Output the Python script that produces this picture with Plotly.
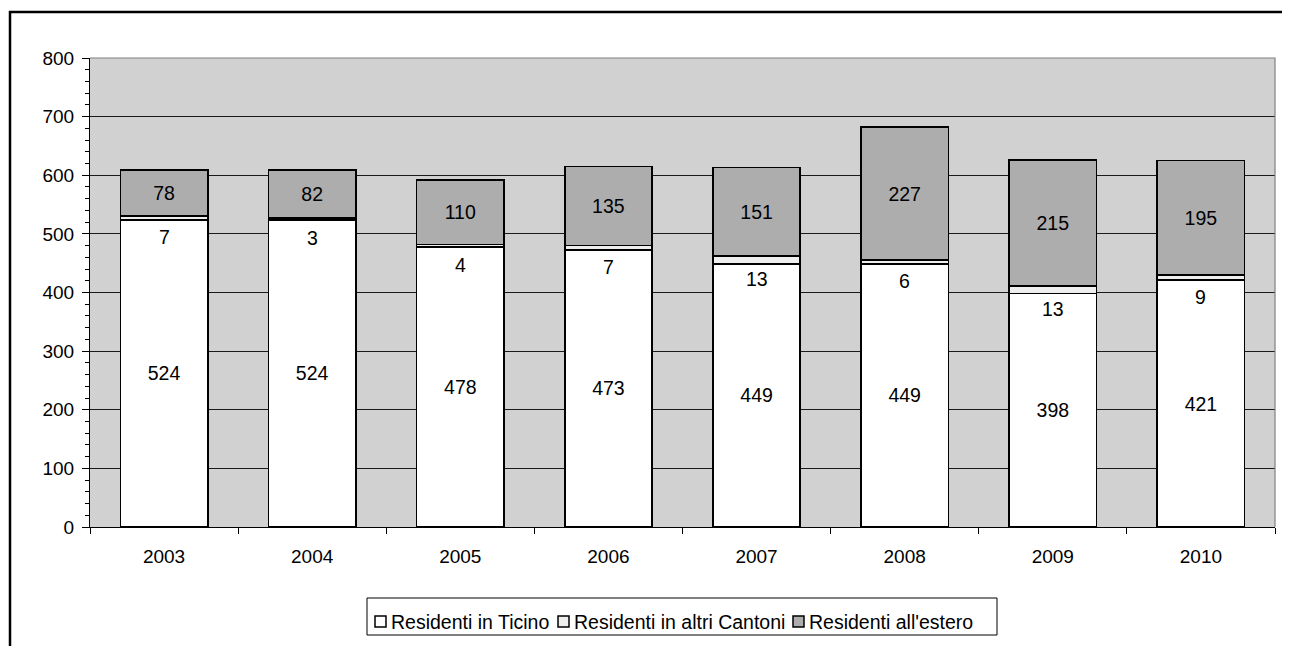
import plotly.graph_objects as go

years = ["2003", "2004", "2005", "2006", "2007", "2008", "2009", "2010"]
ticino = [524, 524, 478, 473, 449, 449, 398, 421]
cantoni = [7, 3, 4, 7, 13, 6, 13, 9]
estero = [78, 82, 110, 135, 151, 227, 215, 195]
series_names = ["Residenti in Ticino", "Residenti in altri Cantoni", "Residenti all'estero"]
series_colors = ["#FFFFFF", "#EEEEEE", "#ADADAD"]

FONT = "Arial, Liberation Sans, sans-serif"
FS = 19.5
TICK_FS = 19

# plot area in screen pixels (page has an 8px body margin)
PX0, PX1, PY0, PY1 = 90, 1275, 58, 527


def px(sx):
    return (sx - PX0) / (PX1 - PX0)


def py(sy):
    return (PY1 - sy) / (PY1 - PY0)


fig = go.Figure()
for name, vals, col, show_text in [
    (series_names[0], ticino, series_colors[0], True),
    (series_names[1], cantoni, series_colors[1], False),
    (series_names[2], estero, series_colors[2], True),
]:
    fig.add_trace(go.Bar(
        x=years, y=vals, name=name, showlegend=False,
        marker=dict(color=col, line=dict(color="#000000", width=1.6)),
        text=[str(v) for v in vals] if show_text else None,
        textposition="inside" if show_text else "none",
        insidetextanchor="middle", textangle=0,
        textfont=dict(family=FONT, size=FS, color="#000000"),
        hoverinfo="x+y+name",
    ))

annotations = []
for i, (t, c) in enumerate(zip(ticino, cantoni)):
    annotations.append(dict(
        x=i, y=t + c / 2, xref="x", yref="y", text=str(c), showarrow=False,
        yshift=-19, font=dict(family=FONT, size=FS, color="#000000"),
    ))

shapes = [
    # outer frame (top & left visible)
    dict(type="rect", xref="paper", yref="paper", x0=px(10), x1=px(1400), y0=py(800), y1=py(12),
         line=dict(color="#000000", width=2.5), layer="above"),
    # plot area top & right border
    dict(type="path", xref="paper", yref="paper", path="M 0,1 L 1,1 L 1,0",
         line=dict(color="#808080", width=1.2), layer="above"),
    # legend box
    dict(type="rect", xref="paper", yref="paper", x0=px(367), x1=px(997), y0=py(635), y1=py(598),
         line=dict(color="#000000", width=1), fillcolor="#FFFFFF", layer="above"),
]

# custom legend entries
sq_left = [375, 558, 793]
txt_left = [389, 572, 807]
for name, col, sl, tl in zip(series_names, series_colors, sq_left, txt_left):
    shapes.append(dict(type="rect", xref="paper", yref="paper",
                       x0=px(sl), x1=px(sl + 11), y0=py(627), y1=py(616),
                       line=dict(color="#000000", width=1.5), fillcolor=col, layer="above"))
    annotations.append(dict(x=px(tl), y=py(621.5), xref="paper", yref="paper",
                            xanchor="left", yanchor="middle", text=name, showarrow=False,
                            font=dict(family=FONT, size=FS, color="#000000")))

fig.update_layout(
    barmode="stack",
    bargap=0.41,
    width=1290, height=646,
    margin=dict(l=PX0 - 8, r=1290 - (PX1 - 8), t=PY0 - 8, b=646 - (PY1 - 8), autoexpand=False),
    paper_bgcolor="#FFFFFF",
    plot_bgcolor="#D1D1D1",
    font=dict(family=FONT, size=TICK_FS, color="#000000"),
    showlegend=False,
    annotations=annotations,
    shapes=shapes,
    xaxis=dict(
        type="category", tickson="boundaries", ticks="outside", ticklen=6,
        tickcolor="#000000", showline=True, linecolor="#000000", linewidth=1.2,
        showgrid=False, tickfont=dict(family=FONT, size=TICK_FS), ticklabelstandoff=12,
        tickangle=0,
    ),
    yaxis=dict(
        range=[0, 800], dtick=100, ticks="outside", ticklen=7, tickcolor="#000000",
        showline=True, linecolor="#000000", linewidth=1.2,
        showgrid=True, gridcolor="#1A1A1A", gridwidth=1, zeroline=False,
        tickfont=dict(family=FONT, size=TICK_FS), ticklabelstandoff=4,
        minor=dict(dtick=20, ticks="outside", ticklen=4, tickcolor="#000000", showgrid=False),
    ),
)

fig.write_html("out.html")
